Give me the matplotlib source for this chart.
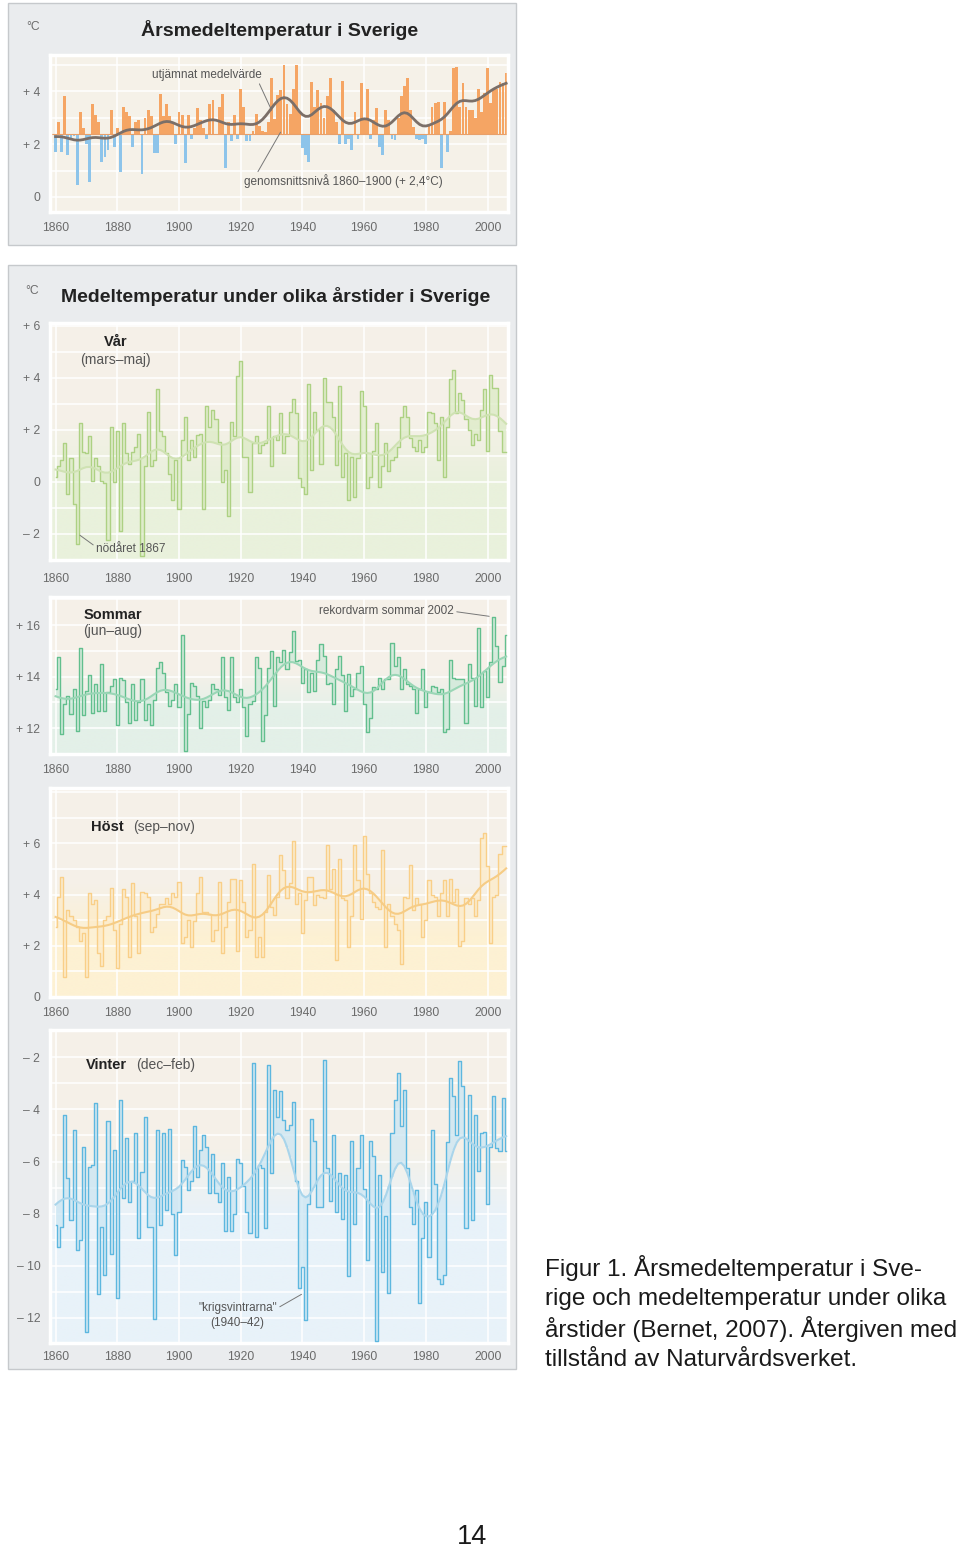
import numpy as np
import matplotlib
matplotlib.use('Agg')
import matplotlib.pyplot as plt
from matplotlib.patches import Rectangle
from matplotlib.ticker import MultipleLocator

plt.rcParams['font.family'] = ['Liberation Sans', 'DejaVu Sans']

# ---- data, one value per year from 1860 ----
start_year = 1860
annual = [1.7, 2.85, 1.7, 3.8, 1.6, 2.2, 2.3, 0.47, 3.2, 2.6,
          2.0, 0.57, 3.5, 3.1, 2.85, 1.33, 1.5, 1.77, 3.3, 1.9,
          2.6, 0.95, 3.4, 3.2, 3.05, 1.9, 2.85, 2.9, 0.86, 3.0,
          3.3, 3.05, 1.65, 1.65, 3.9, 3.05, 3.5, 3.05, 2.85, 2.0,
          3.2, 3.1, 1.27, 3.1, 2.2, 2.6, 3.35, 2.9, 2.6, 2.2,
          3.5, 3.65, 2.4, 3.4, 3.9, 1.08, 2.85, 2.1, 3.1, 2.2,
          4.1, 3.4, 2.1, 2.1, 2.5, 3.15, 2.7, 2.5, 2.45, 2.85,
          4.5, 2.95, 3.86, 4.05, 5.0, 3.5, 3.15, 4.1, 5.0, 3.2,
          1.85, 1.6, 1.33, 4.33, 3.4, 4.05, 3.55, 3.0, 3.8, 4.5,
          3.3, 2.85, 2.0, 4.37, 2.0, 2.2, 1.77, 3.2, 2.2, 4.3,
          2.9, 4.1, 2.2, 2.9, 3.35, 1.9, 1.58, 3.3, 2.9, 2.2,
          2.15, 3.0, 3.8, 4.2, 4.5, 3.3, 2.65, 2.2, 2.15, 2.2,
          2.0, 2.7, 3.4, 3.55, 3.6, 1.08, 3.6, 1.7, 2.5, 4.87,
          4.9, 3.4, 4.3, 3.4, 3.3, 3.3, 3.0, 4.1, 3.2, 3.95,
          4.87, 3.55, 4.1, 4.1, 4.35, 4.3, 4.7]
base_level = 2.4  # genomsnittsnivå 1860-1900

spring = [0.2, 0.6, 0.85, 1.5, -0.45, 0.9, -0.85, -2.4, 2.25, 1.15,
          1.1, 1.75, 0.05, 0.9, 0.6, 0.05, -0.05, -2.25, 2.1, 0.0,
          1.95, -1.9, 2.25, 1.1, 0.7, 1.15, 1.35, 1.85, -2.85, 0.6,
          2.7, 0.6, 0.85, 3.55, 1.95, 1.75, 1.1, 0.3, -0.7, 0.85,
          -1.05, 1.6, 2.5, 0.85, 1.6, 0.95, 1.8, 1.85, -1.05, 2.9,
          2.1, 2.75, 2.4, 1.55, 0.0, 0.45, -1.3, 2.3, 1.75, 4.05,
          4.65, 0.95, 0.95, -0.4, 1.5, 1.75, 1.1, 1.4, 1.5, 2.9,
          0.6, 1.75, 1.6, 2.65, 1.1, 1.75, 2.7, 3.2, 2.65, 0.15,
          -0.2, -0.45, 3.75, 0.45, 2.7, 2.0, 0.7, 4.0, 3.05, 3.05,
          2.5, 0.65, 3.7, 0.2, 1.1, -0.7, 0.95, -0.6, 0.9, 3.5,
          2.9, -0.25, 0.2, 1.2, 2.25, -0.2, 0.6, 1.5, 0.4, 0.85,
          0.95, 1.35, 2.5, 2.9, 2.5, 1.7, 1.35, 1.2, 1.6, 1.15,
          1.35, 2.7, 2.65, 2.25, 0.85, 2.5, 0.2, 2.1, 3.95, 4.3,
          2.65, 3.4, 3.15, 2.4, 2.0, 1.4, 1.85, 1.6, 2.75, 3.55,
          1.2, 4.1, 3.6, 3.6, 1.95, 1.15, 1.15]

summer = [13.5, 14.75, 11.75, 12.95, 13.25, 12.55, 13.5, 11.9, 15.1, 12.5,
          13.45, 14.05, 12.6, 13.7, 12.65, 14.5, 12.65, 13.4, 13.65, 13.9,
          12.1, 13.95, 13.85, 13.0, 12.2, 13.7, 12.3, 13.0, 13.9, 12.3,
          12.95, 12.1, 13.1, 14.35, 14.55, 14.15, 13.4, 12.85, 13.1, 13.7,
          12.8, 15.6, 11.1, 12.55, 13.75, 13.65, 13.25, 12.0, 13.05, 12.8,
          13.1, 13.7, 13.5, 13.3, 14.75, 13.2, 12.7, 14.75, 13.2, 13.0,
          13.5, 12.8, 11.7, 12.95, 13.05, 14.75, 14.35, 11.5, 12.5, 14.35,
          15.0, 12.85, 14.75, 14.55, 15.05, 14.3, 14.95, 15.75, 14.6, 14.65,
          13.75, 14.3, 13.4, 14.15, 13.45, 14.65, 15.25, 14.8, 13.7, 13.75,
          12.95, 14.3, 14.8, 14.05, 12.65, 14.1, 13.25, 13.5, 14.15, 14.4,
          12.95, 11.85, 12.4, 13.6, 13.5, 13.95, 13.5, 13.9, 13.9, 15.3,
          14.4, 14.75, 13.5, 14.3, 13.7, 13.65, 13.5, 12.6, 13.5, 14.3,
          12.8, 13.4, 13.65, 13.6, 13.4, 13.5, 11.85, 11.95, 14.65, 13.95,
          13.9, 13.9, 13.9, 12.2, 14.5, 13.95, 12.85, 15.9, 12.8, 14.2,
          13.2, 14.55, 16.3, 15.2, 13.8, 14.4, 15.6]

autumn = [2.75, 3.9, 4.7, 0.8, 3.4, 3.15, 3.0, 2.75, 2.2, 2.5,
          0.8, 4.05, 3.65, 3.8, 1.7, 1.2, 3.0, 3.15, 4.25, 2.6,
          1.15, 2.85, 4.2, 3.9, 1.55, 4.45, 3.15, 1.7, 4.1, 4.05,
          3.9, 2.55, 2.75, 3.25, 3.65, 3.65, 3.85, 3.65, 4.05, 3.9,
          4.5, 2.1, 2.35, 3.0, 1.95, 2.95, 4.05, 4.7, 3.3, 3.3,
          3.25, 2.2, 2.6, 4.5, 1.7, 2.75, 3.7, 4.6, 4.6, 1.8,
          4.55, 3.7, 2.35, 2.6, 5.2, 1.55, 2.35, 1.55, 3.3, 4.75,
          3.5, 3.2, 3.9, 5.55, 4.95, 3.85, 4.45, 6.1, 3.65, 4.05,
          2.5, 3.8, 4.7, 4.7, 3.6, 4.0, 3.9, 3.85, 5.95, 4.2,
          5.0, 1.45, 5.4, 3.85, 3.8, 1.95, 3.15, 5.95, 4.55, 3.05,
          6.3, 4.8, 4.05, 3.7, 3.5, 3.45, 5.75, 1.95, 3.65, 3.15,
          2.85, 2.6, 1.3, 3.9, 3.85, 5.15, 3.4, 3.85, 3.65, 2.35,
          3.0, 4.55, 4.0, 3.9, 3.15, 4.05, 4.55, 3.15, 4.6, 3.7,
          4.2, 2.0, 2.2, 3.85, 3.65, 3.85, 3.15, 3.8, 6.2, 6.4,
          5.1, 2.1, 3.9, 4.0, 5.6, 5.9, 5.9]

winter = [-8.45, -9.3, -8.5, -4.2, -6.65, -8.25, -4.8, -9.4, -9.0, -5.45,
          -12.55, -6.2, -6.15, -3.75, -11.1, -8.5, -10.35, -4.45, -9.55, -5.55,
          -11.25, -3.65, -7.4, -5.1, -7.55, -6.75, -4.9, -8.95, -6.4, -4.3,
          -8.5, -8.5, -12.05, -4.8, -8.45, -4.9, -7.85, -4.75, -8.0, -9.6,
          -7.95, -5.95, -6.2, -7.1, -6.75, -4.65, -6.6, -5.55, -5.0, -5.45,
          -7.2, -5.7, -7.2, -7.55, -6.05, -8.65, -6.6, -8.65, -8.0, -5.9,
          -6.05, -6.95, -7.95, -8.75, -2.2, -8.9, -6.15, -6.25, -8.55, -2.3,
          -6.45, -3.25, -4.3, -3.3, -4.4, -4.8, -4.6, -3.7, -6.75, -10.85,
          -10.05, -12.1, -7.65, -4.35, -5.2, -7.75, -7.75, -2.1, -6.25, -7.5,
          -5.0, -7.95, -6.45, -8.2, -6.5, -10.4, -5.2, -8.4, -6.25, -5.0,
          -7.05, -9.8, -5.2, -5.8, -12.9, -6.5, -10.25, -8.1, -11.05, -4.9,
          -3.65, -2.6, -4.65, -3.25, -6.25, -7.75, -8.4, -7.1, -11.45, -8.95,
          -7.55, -9.65, -4.8, -6.85, -10.5, -10.7, -10.35, -5.25, -2.8, -3.5,
          -5.0, -2.15, -3.1, -8.55, -3.45, -8.25, -4.2, -6.35, -4.9, -4.85,
          -7.65, -5.45, -3.5, -5.5, -5.6, -3.55, -5.6]

xtick_years = [1860, 1880, 1900, 1920, 1940, 1960, 1980, 2000]

W, H = 960, 1549
X0, X1 = 1858.2, 2006.6
BEIGE = np.array([0.961, 0.945, 0.910])
TICK_COL = '#6b6b6b'


def smooth(v, s):
    # gaussian running mean ("utjämnat medelvärde")
    k = np.arange(-int(4 * s), int(4 * s) + 1)
    w = np.exp(-0.5 * (k / s) ** 2)
    num = np.convolve(v, w, 'same')
    den = np.convolve(np.ones(len(v)), w, 'same')
    return num / den


def px_axes(x0, y0, x1, y1):
    return fig.add_axes([x0 / W, 1 - y1 / H, (x1 - x0) / W, (y1 - y0) / H])


def style_axes(ax, ylim, yticks, ylabels, xpad):
    ax.set_xlim(X0, X1)
    ax.set_ylim(*ylim)
    ax.set_xticks(xtick_years)
    ax.set_xticklabels([str(y) for y in xtick_years])
    ax.set_yticks(yticks)
    ax.set_yticklabels(ylabels)
    ax.yaxis.set_minor_locator(MultipleLocator(1))
    ax.grid(which='major', axis='x', color='white', lw=1.1)
    ax.grid(which='both', axis='y', color='white', lw=1.1)
    ax.set_axisbelow(True)
    ax.tick_params(which='both', length=0, labelsize=8.7, labelcolor=TICK_COL)
    ax.tick_params(axis='y', pad=7)
    ax.tick_params(axis='x', pad=xpad)
    for sp in ax.spines.values():
        sp.set_color('white')
        sp.set_linewidth(2.5)


def gradient_bg(ax, ylim, tint, level, band):
    yy = np.linspace(ylim[0], ylim[1], 300)
    t = np.clip((level + band - yy) / (2 * band), 0, 1)[:, None]
    rgb = BEIGE * (1 - t) + np.array(matplotlib.colors.to_rgb(tint)) * t
    ax.imshow(rgb[:, None, :], extent=[X0, X1, ylim[0], ylim[1]], origin='lower',
              aspect='auto', zorder=0.1, interpolation='bilinear')


fig = plt.figure(figsize=(W / 100, H / 100), dpi=100)
fig.patch.set_facecolor('white')

bg = fig.add_axes([0, 0, 1, 1])
bg.set_xlim(0, W)
bg.set_ylim(H, 0)
bg.axis('off')
bg.add_patch(Rectangle((8, 3), 508, 242, fc='#eaecee', ec='#c6c9cc', lw=1))
bg.add_patch(Rectangle((8, 265), 508, 1104, fc='#eaecee', ec='#c6c9cc', lw=1))

bg.text(33, 27, '°C', fontsize=8.7, color=TICK_COL, ha='center', va='center')
bg.text(280, 30, 'Årsmedeltemperatur i Sverige', fontsize=14, fontweight='bold',
        color='#222222', ha='center', va='center')
bg.text(32, 291, '°C', fontsize=8.7, color=TICK_COL, ha='center', va='center')
bg.text(276, 296, 'Medeltemperatur under olika årstider i Sverige', fontsize=14,
        fontweight='bold', color='#222222', ha='center', va='center')

# ---- top: annual mean, bars around 1860-1900 level ----
years = np.arange(start_year, start_year + len(annual))
annual = np.array(annual)
ax = px_axes(50, 55, 508, 212)
ylim_top = (-0.57, 5.37)
ax.set_facecolor(BEIGE)
style_axes(ax, ylim_top, [0, 2, 4], ['0', '+ 2', '+ 4'], 7)
cols = ['#f5a564' if v >= base_level else '#8dc4ea' for v in annual]
ax.bar(years, annual - base_level, bottom=base_level, width=0.92, color=cols, zorder=2)
ax.axhline(base_level, color='#e8a06a', lw=0.8, zorder=2)
ax.plot(years, smooth(annual, 3.2), color='#7b6f68', lw=2.0, zorder=4)
ax.annotate('utjämnat medelvärde', xy=(1930.0, 3.28), xytext=(1926.7, 4.61),
            fontsize=8.5, color='#555555', ha='right', va='center',
            arrowprops=dict(arrowstyle='-', color='#777777', lw=0.7,
                            shrinkA=0, shrinkB=0, relpos=(0.97, 0.0)))
ax.annotate('genomsnittsnivå 1860–1900 (+ 2,4°C)', xy=(1932.9, 2.45), xytext=(1921.2, 0.59),
            fontsize=8.5, color='#555555', ha='left', va='center',
            arrowprops=dict(arrowstyle='-', color='#777777', lw=0.7,
                            shrinkA=0, shrinkB=0, relpos=(0.06, 1.0)))

# ---- seasonal panels ----
seasons = [
    dict(vals=spring, box=(50, 323, 508, 560), ylim=(-3.0, 6.1),
         yticks=[-2, 0, 2, 4, 6], ylabels=['– 2', '0', '+ 2', '+ 4', '+ 6'],
         line='#add183', fill='#dcebc6', sm='#cfe2b3', tint='#e9f1dc',
         level=1.2, band=1.2, xpad=9),
    dict(vals=summer, box=(50, 597, 508, 754), ylim=(10.99, 17.09),
         yticks=[12, 14, 16], ylabels=['+ 12', '+ 14', '+ 16'],
         line='#62bf8e', fill='#cde9d9', sm='#9ad6b6', tint='#e3f0e8',
         level=13.4, band=0.8, xpad=7),
    dict(vals=autumn, box=(50, 788, 508, 997), ylim=(0.0, 8.16),
         yticks=[0, 2, 4, 6], ylabels=['0', '+ 2', '+ 4', '+ 6'],
         line='#f9cf88', fill='#fdebc9', sm='#f6cc85', tint='#fdf1d3',
         level=3.4, band=1.0, xpad=7),
    dict(vals=winter, box=(50, 1030, 508, 1343), ylim=(-12.97, -0.95),
         yticks=[-12, -10, -8, -6, -4, -2],
         ylabels=['– 12', '– 10', '– 8', '– 6', '– 4', '– 2'],
         line='#5db7df', fill='#cbe6f3', sm='#a9d5eb', tint='#e8f2f9',
         level=-6.8, band=1.3, xpad=6),
]

season_axes = []
for s in seasons:
    v = np.array(s['vals'])
    yrs = np.arange(start_year, start_year + len(v))
    sm = smooth(v, 3.6)
    ax = px_axes(*s['box'])
    style_axes(ax, s['ylim'], s['yticks'], s['ylabels'], s['xpad'])
    gradient_bg(ax, s['ylim'], s['tint'], s['level'], s['band'])
    ax.fill_between(yrs, v, sm, step='mid', color=s['fill'], alpha=0.75, lw=0, zorder=2)
    ax.step(yrs, v, where='mid', color=s['line'], lw=1.0, zorder=3)
    ax.plot(yrs, sm, color=s['sm'], lw=1.5, zorder=4)
    season_axes.append(ax)

ax_var, ax_som, ax_host, ax_vin = season_axes
lab_kw = dict(fontsize=10.5, fontweight='bold', color='#222222', va='center')
sub_kw = dict(fontsize=10, color='#555555', va='center')
note_kw = dict(fontsize=8.5, color='#555555', va='center')
arrow_kw = dict(arrowstyle='-', color='#777777', lw=0.7, shrinkA=0, shrinkB=0)

ax_var.text(1879.5, 5.37, 'Vår', ha='center', zorder=6, **lab_kw)
ax_var.text(1879.5, 4.68, '(mars–maj)', ha='center', zorder=6, **sub_kw)
ax_var.annotate('nödåret 1867', xy=(1867.9, -2.05), xytext=(1873.1, -2.59),
                ha='left', arrowprops=dict(relpos=(0.0, 0.7), **arrow_kw), **note_kw)

ax_som.text(1878.6, 16.41, 'Sommar', ha='center', zorder=6, **lab_kw)
ax_som.text(1878.6, 15.75, '(jun–aug)', ha='center', zorder=6, **sub_kw)
ax_som.annotate('rekordvarm sommar 2002', xy=(2000.5, 16.34), xytext=(1989.1, 16.53),
                ha='right', arrowprops=dict(relpos=(1.0, 0.5), **arrow_kw), **note_kw)

ax_host.text(1871.5, 6.63, 'Höst', ha='left', zorder=6, **lab_kw)
ax_host.text(1885.0, 6.63, '(sep–nov)', ha='left', zorder=6, **sub_kw)

ax_vin.text(1869.8, -2.3, 'Vinter', ha='left', zorder=6, **lab_kw)
ax_vin.text(1886.0, -2.3, '(dec–feb)', ha='left', zorder=6, **sub_kw)
ax_vin.annotate('"krigsvintrarna"\n(1940–42)', xy=(1939.7, -11.1), xytext=(1919.0, -11.9),
                ha='center', multialignment='center', linespacing=1.35,
                arrowprops=dict(relpos=(1.0, 0.75), **arrow_kw), **note_kw)

# ---- caption and page number ----
caption = ['Figur 1. Årsmedeltemperatur i Sve-',
           'rige och medeltemperatur under olika',
           'årstider (Bernet, 2007). Återgiven med',
           'tillstånd av Naturvårdsverket.']
for i, line in enumerate(caption):
    bg.text(545, 1268 + i * 30.7, line, fontsize=17.5, color='#1a1a1a',
            ha='left', va='center')
bg.text(472, 1537, '14', fontsize=19.5, color='#1a1a1a', ha='center', va='center')

fig.savefig('out.png', dpi=100)
